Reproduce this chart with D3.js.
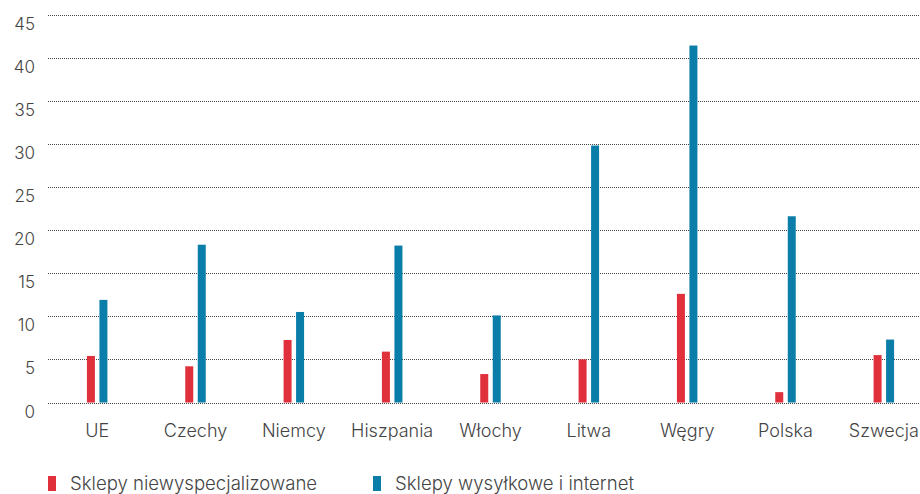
<!DOCTYPE html>
<html>
<head>
<meta charset="utf-8">
<script src="https://cdn.jsdelivr.net/npm/d3@7"></script>
<style>
  html, body { margin: 0; padding: 0; background: #fff; }
  svg { display: block; font-family: "Inter", "Roboto", sans-serif; font-weight: 300; }
</style>
</head>
<body>
<svg id="chart" width="920" height="494"></svg>
<script>
const categories = ["UE", "Czechy", "Niemcy", "Hiszpania", "Włochy", "Litwa", "Węgry", "Polska", "Szwecja"];
const seriesNames = ["Sklepy niewyspecjalizowane", "Sklepy wysyłkowe i internet"];
const generalStores = [5.4, 4.2, 7.25, 5.9, 3.3, 5.0, 12.6, 1.2, 5.5];
const mailInternet = [11.9, 18.3, 10.5, 18.2, 10.1, 29.8, 41.4, 21.6, 7.3];
const yTicks = [0, 5, 10, 15, 20, 25, 30, 35, 40, 45];
const colors = ["#e0303c", "#0a7ea9"];

(function () {
  const svg = d3.select("#chart");
  const plotLeft = 48, plotRight = 933, plotTop = 14.5, plotBottom = 402.5;

  const x = d3.scaleBand().domain(categories).range([plotLeft, plotRight]).padding(0);
  const y = d3.scaleLinear().domain([0, 45]).range([plotBottom, plotTop]);

  // dotted gridlines
  svg.append("g").selectAll("line").data(yTicks).join("line")
    .attr("x1", plotLeft).attr("x2", 920)
    .attr("y1", d => Math.round(y(d)) + 0.5).attr("y2", d => Math.round(y(d)) + 0.5)
    .attr("stroke", "#444").attr("stroke-width", 1)
    .attr("stroke-dasharray", "1,1");

  // y tick labels, set just below each line
  svg.append("g").selectAll("text").data(yTicks).join("text")
    .attr("x", 35).attr("y", d => y(d) + 15)
    .attr("text-anchor", "end")
    .attr("font-size", 17).attr("fill", "#444")
    .text(d => d);

  // bars
  const barW = 8, gap = 4.5;
  [generalStores, mailInternet].forEach((vals, i) => {
    svg.append("g").selectAll("rect").data(categories).join("rect")
      .attr("x", c => x(c) + x.bandwidth() / 2 - (i === 0 ? gap / 2 + barW : -gap / 2))
      .attr("y", (c, j) => y(vals[j]))
      .attr("width", barW)
      .attr("height", (c, j) => plotBottom - y(vals[j]))
      .attr("fill", colors[i]);
  });

  // category labels
  svg.append("g").selectAll("text").data(categories).join("text")
    .attr("x", c => x(c) + x.bandwidth() / 2)
    .attr("y", 437)
    .attr("text-anchor", "middle")
    .attr("font-size", 18).attr("fill", "#444")
    .text(c => c);

  // legend
  const legendX = [48, 373];
  seriesNames.forEach((name, i) => {
    const g = svg.append("g").attr("transform", `translate(${legendX[i]},476)`);
    g.append("rect").attr("width", 8).attr("height", 15).attr("fill", colors[i]);
    g.append("text").attr("x", 22).attr("y", 14)
      .attr("font-size", 18.6).attr("fill", "#444").text(name);
  });
})();
</script>
</body>
</html>
